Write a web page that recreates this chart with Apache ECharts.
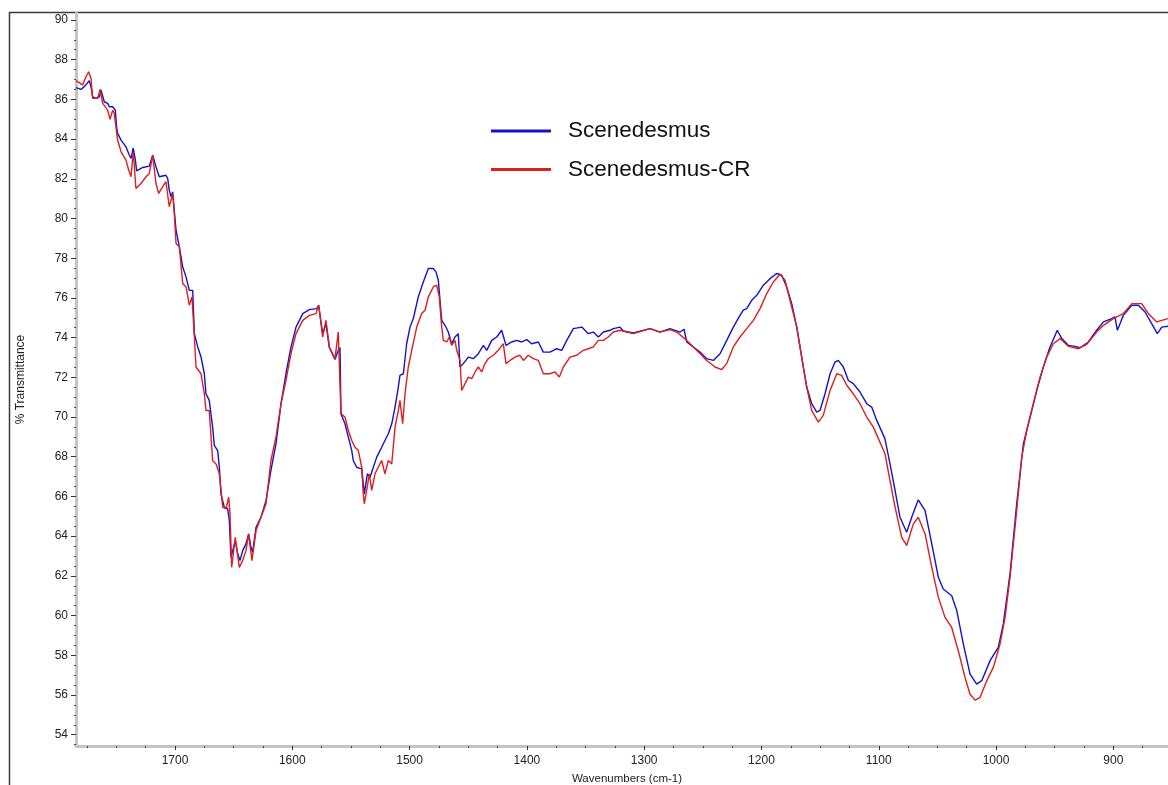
<!DOCTYPE html>
<html>
<head>
<meta charset="utf-8">
<script src="https://cdn.jsdelivr.net/npm/echarts@6/dist/echarts.min.js"></script>
<style>
  html, body { margin: 0; padding: 0; background: #fff; }
  #chart { width: 1168px; height: 785px; }
</style>
</head>
<body>
<div id="chart"></div>
<script>
// FTIR spectra: wavenumber (cm-1) vs % transmittance
const wnBlue = [1784.4,1780.1,1777.3,1773.1,1771.6,1770.2,1767.4,1764.5,1763.1,1760.3,1757.4,1756.0,1753.1,1750.9,1749.8,1748.9,1746.0,1741.8,1739.0,1737.5,1735.6,1733.8,1732.7,1727.5,1721.9,1719.0,1716.2,1713.4,1707.7,1706.2,1704.9,1703.4,1702.0,1700.6,1699.1,1696.3,1693.4,1690.6,1687.8,1684.9,1683.5,1680.6,1677.8,1675.0,1673.6,1670.8,1667.9,1666.5,1663.6,1662.2,1660.8,1658.0,1655.1,1653.7,1652.3,1650.8,1648.6,1646.5,1644.6,1642.3,1639.5,1637.2,1635.2,1633.8,1630.9,1626.7,1622.4,1618.2,1613.9,1609.6,1605.4,1601.1,1596.8,1591.1,1585.5,1579.2,1577.5,1574.1,1571.3,1568.4,1563.6,1560.8,1559.3,1558.5,1555.1,1552.2,1549.3,1548.0,1545.1,1540.8,1538.6,1536.0,1533.7,1530.9,1528.0,1523.8,1521.0,1518.1,1515.2,1512.4,1509.6,1508.2,1505.3,1502.5,1499.6,1496.8,1492.6,1488.3,1484.0,1479.8,1477.5,1475.5,1472.6,1469.8,1467.0,1464.1,1461.3,1458.5,1457.0,1454.2,1449.9,1445.7,1441.4,1437.1,1434.2,1430.0,1425.7,1421.5,1420.1,1417.8,1412.9,1408.7,1404.4,1400.1,1395.9,1390.2,1386.0,1380.3,1374.6,1370.3,1366.0,1360.4,1353.2,1347.6,1343.4,1339.1,1334.8,1329.1,1326.3,1320.6,1317.8,1309.3,1295.0,1286.5,1278.0,1269.4,1266.0,1263.7,1258.1,1252.4,1246.7,1241.0,1235.3,1229.6,1224.0,1218.3,1215.5,1212.6,1208.3,1204.0,1198.4,1192.7,1187.0,1182.7,1178.5,1174.2,1169.9,1165.7,1161.4,1157.2,1152.9,1150.1,1145.8,1141.5,1137.3,1134.5,1130.2,1125.9,1121.7,1116.0,1110.3,1106.0,1101.7,1094.7,1090.4,1086.1,1081.9,1076.2,1071.9,1066.3,1060.5,1054.8,1049.2,1045.0,1037.8,1033.5,1027.9,1022.2,1016.5,1012.2,1005.1,998.1,993.8,988.1,982.4,976.7,971.0,965.3,959.7,954.0,949.7,947.8,944.0,938.4,932.7,928.4,921.3,914.2,908.5,901.4,898.6,896.6,894.3,891.5,884.3,878.7,873.0,867.3,862.5,858.7,853.4];
const tBlue = [86.59,86.50,86.64,86.94,86.64,86.13,86.05,86.13,86.47,85.88,85.80,85.63,85.63,85.46,84.62,84.29,83.95,83.61,83.20,83.03,83.55,82.95,82.40,82.57,82.64,83.19,82.60,82.10,82.18,82.01,81.43,81.09,81.34,81.26,79.41,78.57,77.56,77.06,76.38,76.38,74.20,73.53,73.02,72.18,71.17,70.84,69.49,68.57,68.31,67.47,66.13,65.46,65.38,64.79,62.94,63.27,63.78,63.11,62.77,63.27,63.61,64.11,63.44,63.19,64.45,64.95,65.79,67.31,68.65,70.67,72.18,73.53,74.53,75.21,75.41,75.46,75.63,74.20,74.70,73.50,72.90,73.36,73.50,70.17,69.66,68.99,68.31,67.81,67.47,67.39,66.13,67.14,66.97,67.47,67.98,68.48,68.82,69.16,69.66,70.50,71.51,72.10,72.18,73.69,74.53,74.96,76.05,76.80,77.48,77.48,77.31,76.89,74.87,74.62,74.28,73.69,74.03,74.20,72.52,72.69,73.02,72.94,73.19,73.61,73.36,73.86,74.03,74.37,74.45,73.61,73.78,73.86,73.78,73.90,73.69,73.78,73.27,73.27,73.44,73.36,73.86,74.45,74.53,74.20,74.28,74.03,74.28,74.37,74.45,74.53,74.33,74.23,74.45,74.28,74.45,74.28,74.42,73.78,73.53,73.27,72.94,72.85,73.19,73.86,74.53,75.12,75.38,75.46,75.88,76.13,76.64,76.97,77.23,77.14,76.55,75.71,74.53,73.02,71.51,70.67,70.25,70.33,71.17,72.18,72.77,72.85,72.52,71.84,71.68,71.26,70.67,70.50,69.83,68.90,67.64,66.30,64.95,64.20,64.95,65.83,65.29,63.61,61.93,61.34,61.00,60.25,58.57,57.05,56.55,56.72,57.73,58.40,59.58,62.10,65.63,68.65,70.00,71.34,72.52,73.53,74.11,74.37,73.95,73.61,73.56,73.49,73.78,74.37,74.79,74.96,75.04,74.37,74.70,75.12,75.63,75.63,75.29,74.70,74.20,74.53,74.57];

const wnRed = [1784.4,1781.6,1778.7,1775.9,1773.6,1771.6,1770.2,1765.9,1763.9,1761.6,1757.4,1755.4,1753.1,1751.8,1748.9,1746.0,1741.8,1739.5,1737.5,1735.6,1733.3,1729.0,1724.7,1721.9,1719.0,1716.2,1713.9,1710.5,1707.7,1704.9,1702.0,1700.6,1699.1,1696.3,1693.4,1690.6,1687.8,1685.5,1683.5,1682.1,1677.8,1675.0,1673.6,1670.8,1667.9,1665.0,1662.2,1659.3,1656.5,1654.2,1653.1,1651.7,1648.6,1645.2,1642.3,1639.5,1637.2,1634.4,1630.9,1626.7,1622.4,1618.2,1613.9,1609.6,1605.4,1601.1,1596.8,1591.1,1585.5,1579.8,1577.5,1574.1,1571.3,1568.4,1563.6,1560.8,1559.3,1558.5,1555.1,1552.2,1549.3,1546.5,1543.7,1540.8,1539.5,1538.6,1536.6,1534.3,1532.3,1529.5,1526.7,1523.8,1521.0,1518.1,1515.2,1512.4,1509.6,1508.2,1505.9,1503.9,1501.1,1498.2,1493.9,1489.7,1486.8,1484.0,1479.8,1476.9,1474.7,1472.6,1471.2,1468.3,1466.1,1464.1,1461.3,1459.8,1457.0,1455.6,1452.7,1449.9,1447.0,1444.2,1441.4,1438.5,1435.7,1432.9,1428.6,1424.4,1420.1,1417.8,1414.4,1410.1,1405.9,1403.0,1398.8,1394.5,1390.2,1386.0,1380.3,1376.0,1372.3,1368.9,1363.2,1357.5,1351.9,1347.6,1343.4,1339.1,1334.8,1330.6,1326.3,1320.6,1309.3,1295.0,1286.5,1278.0,1272.3,1263.7,1255.2,1246.7,1239.6,1233.9,1229.6,1224.0,1218.3,1212.6,1206.9,1201.2,1195.5,1189.9,1184.2,1179.9,1175.7,1169.9,1165.7,1161.4,1157.2,1151.5,1147.3,1141.5,1135.8,1131.6,1127.3,1121.7,1116.0,1110.3,1104.6,1101.7,1094.7,1090.4,1086.1,1080.4,1076.2,1070.5,1066.3,1060.5,1054.8,1049.2,1043.5,1037.8,1032.2,1026.4,1022.2,1017.9,1013.7,1007.9,1002.3,996.6,992.3,988.1,982.4,978.1,973.8,968.2,962.5,956.8,951.2,945.4,938.4,929.8,922.7,914.2,908.5,900.0,891.5,884.3,875.8,870.2,863.0,853.4];
const tRed = [86.94,86.84,86.72,87.14,87.39,87.06,86.05,86.05,86.50,85.80,85.46,85.00,85.46,85.29,83.95,83.36,82.94,82.44,82.10,83.36,81.51,81.76,82.10,82.27,83.19,81.76,81.26,81.60,81.85,80.59,81.26,80.25,78.74,78.57,76.72,76.55,75.63,76.05,74.03,72.52,72.18,71.17,70.33,70.33,67.81,67.64,67.14,65.46,65.38,65.96,65.12,62.43,63.94,62.43,62.77,63.27,64.11,62.77,64.28,64.95,65.63,67.81,69.00,70.67,71.84,73.19,74.20,74.87,75.12,75.21,75.63,74.03,74.87,73.53,72.94,74.28,74.28,70.17,70.00,69.32,68.82,68.48,68.31,67.47,66.13,65.63,66.30,67.14,66.30,67.14,67.47,67.81,67.14,67.81,67.64,69.49,70.33,70.84,69.66,71.17,72.52,73.36,74.53,75.21,75.38,76.05,76.55,76.64,76.05,74.53,73.86,73.78,74.03,73.61,73.86,73.36,72.85,71.34,71.68,72.01,71.93,72.27,72.52,72.27,72.69,72.94,73.11,73.36,73.69,72.69,72.85,73.02,73.11,72.85,73.11,72.94,72.85,72.18,72.18,72.27,72.01,72.52,73.02,73.11,73.36,73.44,73.53,73.86,73.86,74.03,74.28,74.37,74.20,74.45,74.28,74.40,74.28,73.86,73.36,72.85,72.52,72.39,72.69,73.53,74.03,74.45,74.87,75.46,76.22,76.80,77.19,76.89,75.88,74.53,73.02,71.51,70.33,69.74,70.08,71.34,72.18,72.10,71.60,71.17,70.67,70.00,69.49,69.10,68.15,66.80,65.46,63.94,63.53,64.62,64.95,64.11,62.43,60.92,59.91,59.40,58.23,56.88,56.04,55.74,55.87,56.72,57.39,58.57,59.91,61.93,65.29,67.98,69.33,70.67,72.01,73.02,73.69,73.95,73.56,73.44,73.66,74.28,74.62,74.96,75.21,75.71,75.71,75.21,74.79,74.96];

const seriesNames = ['Scenedesmus', 'Scenedesmus-CR'];
const seriesColors = ['#1212c8', '#dc1e1e'];

const xLabels = [900, 1000, 1100, 1200, 1300, 1400, 1500, 1600, 1700];
const xMinor = [];
for (let v = 875; v <= 1775; v += 25) if (v % 100 !== 0) xMinor.push(v);
const yLabels = [];
for (let v = 54; v <= 90; v += 2) yLabels.push(v);
const yMinor = [];
for (let v = 53.5; v <= 90.3; v += 0.5) if (Math.abs(v / 2 - Math.round(v / 2)) > 1e-6) yMinor.push(v);

const X_MIN = 853.4, X_MAX = 1784.4, Y_MIN = 53.43, Y_MAX = 90.35;
const FONT = '"Liberation Sans", Arial, sans-serif';

const pairs = (xs, ys) => xs.map((x, i) => [x, ys[i]]);
const plain = v => String(v);

const chart = echarts.init(document.getElementById('chart'), null, { renderer: 'canvas' });
chart.setOption({
  animation: false,
  backgroundColor: '#fff',
  textStyle: { fontFamily: FONT },
  grid: { left: 76, right: 0, top: 13, bottom: 39, containLabel: false, outerBoundsMode: 'none' },
  legend: {
    orient: 'vertical', left: 491, top: 118, padding: 0,
    icon: 'rect', itemWidth: 60, itemHeight: 3, itemGap: 12.6,
    selectedMode: false,
    textStyle: { fontSize: 22.5, color: '#111', fontFamily: FONT, lineHeight: 26, padding: [0, 0, 0, 12] },
    data: seriesNames
  },
  xAxis: [{
    type: 'value', inverse: true, min: X_MIN, max: X_MAX,
    name: 'Wavenumbers (cm-1)', nameLocation: 'middle', nameGap: 27,
    nameTextStyle: { fontSize: 11.5, color: '#222', fontFamily: FONT, padding: [0, 0, 0, 10] },
    axisLine: { show: true, lineStyle: { color: '#c4c4c4', width: 3 } },
    axisTick: { show: true, customValues: xLabels, length: 4, lineStyle: { color: '#333', width: 1 } },
    axisLabel: { customValues: xLabels, formatter: plain, margin: 9, fontSize: 12, color: '#222', fontFamily: FONT },
    splitLine: { show: false }
  }, {
    type: 'value', inverse: true, min: X_MIN, max: X_MAX, position: 'bottom',
    axisLine: { show: false },
    axisTick: { show: true, customValues: xMinor, length: 2, lineStyle: { color: '#444', width: 1 } },
    axisLabel: { show: false },
    splitLine: { show: false }
  }],
  yAxis: [{
    type: 'value', min: Y_MIN, max: Y_MAX,
    name: '% Transmittance', nameLocation: 'middle', nameGap: 49,
    nameTextStyle: { fontSize: 12, color: '#222', fontFamily: FONT },
    axisLine: { show: true, lineStyle: { color: '#c4c4c4', width: 3 } },
    axisTick: { show: true, customValues: yLabels, length: 5, lineStyle: { color: '#333', width: 1 } },
    axisLabel: { customValues: yLabels, formatter: plain, margin: 8, fontSize: 12, color: '#222', fontFamily: FONT },
    splitLine: { show: false }
  }, {
    type: 'value', min: Y_MIN, max: Y_MAX, position: 'left',
    axisLine: { show: false },
    axisTick: { show: true, customValues: yMinor, length: 2, lineStyle: { color: '#444', width: 1 } },
    axisLabel: { show: false },
    splitLine: { show: false }
  }],
  series: [
    {
      name: seriesNames[0], type: 'line', xAxisIndex: 0, yAxisIndex: 0,
      data: pairs(wnBlue, tBlue), showSymbol: false, symbol: 'none',
      lineStyle: { color: seriesColors[0], width: 1.4 }, itemStyle: { color: seriesColors[0] }, z: 3
    },
    {
      name: seriesNames[1], type: 'line', xAxisIndex: 0, yAxisIndex: 0,
      data: pairs(wnRed, tRed), showSymbol: false, symbol: 'none',
      lineStyle: { color: seriesColors[1], width: 1.4 }, itemStyle: { color: seriesColors[1] }, z: 4
    }
  ],
  graphic: [{
    type: 'polyline', silent: true,
    shape: { points: [[9.5, 785], [9.5, 12.5], [1168, 12.5]] },
    style: { stroke: '#3a3a3a', lineWidth: 1.5, fill: null }
  }]
});
</script>
</body>
</html>
